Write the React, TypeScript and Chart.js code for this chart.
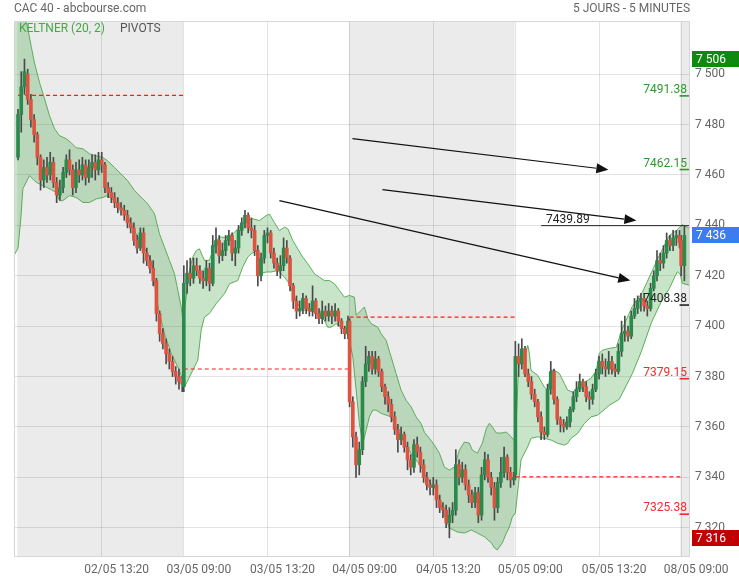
import React, { useEffect, useRef } from 'react';
import { Chart, registerables } from 'chart.js';

Chart.register(...registerables);

// ---------------- data ----------------
// x unit = one 5-minute slot; a session (09:00 -> 17:30) spans 103 slots.
const SESSION_SLOTS = 103;
const CANDLE_STEP = 2; // 10-minute candles
const CANDLES_PER_SESSION = 52;

// 02/05, 03/05, 04/05, 05/05 (52 candles each), 08/05 (2 candles)
const opens = [
  7467, 7484, 7495, 7500, 7490, 7482, 7476, 7467, 7458, 7463, 7460, 7465, 7457, 7452, 7455, 7461, 7466, 7462, 7455, 7462, 7460, 7464, 7459, 7463, 7465, 7462,
  7466, 7464, 7455, 7453, 7451, 7449, 7447, 7446, 7444, 7441, 7439, 7434, 7431, 7437, 7429, 7426, 7423, 7418, 7405, 7397, 7393, 7389, 7386, 7382, 7380, 7378,
  7376, 7417, 7421, 7419, 7424, 7422, 7419, 7418, 7423, 7417, 7432, 7434, 7428, 7430, 7434, 7436, 7429, 7431, 7438, 7441, 7444, 7439, 7438, 7430, 7420, 7427,
  7436, 7437, 7429, 7425, 7422, 7424, 7431, 7427, 7416, 7410, 7406, 7407, 7411, 7407, 7406, 7410, 7405, 7403, 7406, 7404, 7406, 7404, 7406, 7402, 7399, 7397,
  7402, 7370, 7356, 7345, 7351, 7378, 7385, 7388, 7383, 7387, 7382, 7376, 7372, 7369, 7364, 7359, 7355, 7357, 7352, 7347, 7344, 7353, 7350, 7345, 7340, 7337,
  7336, 7337, 7331, 7328, 7327, 7322, 7325, 7327, 7345, 7340, 7343, 7337, 7333, 7330, 7334, 7325, 7341, 7347, 7340, 7336, 7328, 7338, 7342, 7348, 7342, 7339,
  7341, 7388, 7385, 7391, 7381, 7378, 7373, 7370, 7364, 7358, 7357, 7375, 7382, 7371, 7363, 7361, 7360, 7362, 7367, 7372, 7375, 7378, 7376, 7372, 7371, 7375,
  7381, 7386, 7384, 7383, 7386, 7383, 7382, 7390, 7397, 7398, 7396, 7404, 7407, 7410, 7411, 7408, 7407, 7415, 7420, 7426, 7425, 7429, 7434, 7432, 7435, 7436,
  7434, 7424,
];
const highs = [
  7486, 7501, 7506, 7502, 7492, 7484, 7477, 7468, 7466, 7467, 7469, 7467, 7459, 7458, 7463, 7468, 7470, 7464, 7465, 7466, 7467, 7466, 7466, 7468, 7468, 7469,
  7469, 7465, 7457, 7455, 7453, 7451, 7449, 7448, 7446, 7443, 7441, 7436, 7439, 7439, 7431, 7428, 7426, 7419, 7406, 7399, 7395, 7391, 7388, 7384, 7383, 7380,
  7424, 7426, 7427, 7427, 7427, 7424, 7422, 7426, 7425, 7436, 7439, 7436, 7433, 7436, 7438, 7437, 7434, 7440, 7443, 7446, 7445, 7443, 7440, 7432, 7429, 7438,
  7439, 7438, 7431, 7427, 7428, 7435, 7434, 7428, 7417, 7412, 7410, 7413, 7412, 7409, 7416, 7411, 7407, 7410, 7408, 7409, 7408, 7409, 7407, 7403, 7400, 7404,
  7403, 7372, 7358, 7354, 7380, 7392, 7390, 7390, 7390, 7388, 7383, 7377, 7374, 7371, 7366, 7361, 7360, 7358, 7354, 7349, 7355, 7356, 7352, 7347, 7342, 7339,
  7340, 7339, 7333, 7330, 7329, 7328, 7330, 7351, 7347, 7346, 7345, 7339, 7335, 7336, 7336, 7344, 7350, 7349, 7342, 7338, 7340, 7348, 7352, 7349, 7344, 7342,
  7394, 7393, 7395, 7392, 7383, 7380, 7375, 7371, 7366, 7360, 7377, 7386, 7383, 7372, 7364, 7363, 7364, 7368, 7374, 7378, 7381, 7379, 7378, 7374, 7377, 7383,
  7388, 7389, 7387, 7390, 7388, 7385, 7393, 7402, 7404, 7400, 7406, 7411, 7412, 7413, 7413, 7410, 7417, 7422, 7430, 7429, 7432, 7437, 7436, 7438, 7438, 7438,
  7436, 7440,
];
const lows = [
  7466, 7477, 7492, 7488, 7479, 7473, 7464, 7454, 7455, 7457, 7458, 7455, 7449, 7450, 7453, 7459, 7460, 7452, 7453, 7457, 7458, 7456, 7457, 7459, 7458, 7460,
  7461, 7453, 7451, 7449, 7447, 7445, 7444, 7442, 7439, 7437, 7432, 7429, 7430, 7425, 7424, 7421, 7416, 7402, 7394, 7391, 7385, 7383, 7380, 7377, 7375, 7374,
  7374, 7413, 7416, 7417, 7420, 7417, 7415, 7416, 7414, 7416, 7429, 7425, 7426, 7428, 7432, 7426, 7424, 7429, 7436, 7439, 7437, 7435, 7428, 7416, 7418, 7425,
  7433, 7427, 7423, 7420, 7419, 7422, 7425, 7414, 7407, 7403, 7404, 7405, 7405, 7404, 7404, 7403, 7401, 7401, 7402, 7402, 7401, 7402, 7400, 7397, 7395, 7395,
  7368, 7352, 7340, 7341, 7349, 7376, 7382, 7381, 7381, 7380, 7374, 7369, 7366, 7362, 7357, 7350, 7353, 7350, 7343, 7341, 7342, 7348, 7342, 7338, 7335, 7333,
  7333, 7328, 7326, 7324, 7320, 7316, 7322, 7325, 7337, 7338, 7335, 7330, 7328, 7328, 7322, 7323, 7339, 7338, 7333, 7323, 7326, 7336, 7340, 7339, 7336, 7337,
  7339, 7380, 7383, 7380, 7376, 7371, 7368, 7362, 7355, 7355, 7356, 7373, 7369, 7361, 7358, 7358, 7359, 7360, 7366, 7370, 7374, 7374, 7370, 7367, 7369, 7374,
  7379, 7381, 7380, 7381, 7381, 7380, 7381, 7388, 7394, 7394, 7395, 7403, 7405, 7406, 7406, 7404, 7406, 7414, 7418, 7422, 7423, 7427, 7430, 7430, 7432, 7431,
  7420, 7418,
];
const closes = [
  7484, 7495, 7501, 7490, 7482, 7476, 7467, 7458, 7463, 7460, 7465, 7457, 7452, 7455, 7461, 7466, 7462, 7455, 7462, 7460, 7464, 7459, 7463, 7465, 7462, 7466,
  7464, 7455, 7453, 7451, 7449, 7447, 7446, 7444, 7441, 7439, 7434, 7431, 7437, 7429, 7426, 7423, 7418, 7405, 7397, 7393, 7389, 7386, 7382, 7380, 7378, 7377,
  7417, 7421, 7419, 7424, 7422, 7419, 7418, 7423, 7417, 7432, 7434, 7428, 7430, 7434, 7436, 7429, 7431, 7438, 7441, 7444, 7439, 7438, 7430, 7420, 7427, 7436,
  7437, 7429, 7425, 7422, 7424, 7431, 7427, 7416, 7410, 7406, 7407, 7411, 7407, 7406, 7410, 7405, 7403, 7406, 7404, 7406, 7404, 7406, 7402, 7399, 7397, 7402,
  7370, 7356, 7345, 7351, 7378, 7385, 7388, 7383, 7387, 7382, 7376, 7372, 7369, 7364, 7359, 7355, 7357, 7352, 7347, 7344, 7353, 7350, 7345, 7340, 7337, 7336,
  7337, 7331, 7328, 7327, 7322, 7325, 7327, 7345, 7340, 7343, 7337, 7333, 7330, 7334, 7325, 7341, 7347, 7340, 7336, 7328, 7338, 7342, 7348, 7342, 7339, 7340,
  7388, 7385, 7391, 7381, 7378, 7373, 7370, 7364, 7358, 7357, 7375, 7382, 7371, 7363, 7361, 7360, 7362, 7367, 7372, 7375, 7378, 7376, 7372, 7371, 7375, 7381,
  7386, 7384, 7383, 7386, 7383, 7382, 7390, 7397, 7398, 7396, 7404, 7407, 7410, 7411, 7408, 7407, 7415, 7420, 7426, 7425, 7429, 7434, 7432, 7435, 7436, 7433,
  7424, 7436,
];

// Keltner (20, 2) channel
const upperX = [
  -2.5, 0, 4.0, 6.1, 8.2, 10.2, 13.4, 16.5, 19.6, 22.7, 25.8, 29.9, 33.0, 36.1, 40.3, 44.4, 48.6, 52.7, 55.5, 59.9, 68.2, 72.4, 77.5, 80.6, 84.8, 87.9, 91.0, 94.1, 97.2, 99.3, 101.4, 102.4,
  103.4, 104.5, 106.5, 108.6, 110.7, 112.7, 115.8, 118.9, 121.0, 123.1, 125.2, 129.3, 133.4, 137.6, 141.7, 145.8, 150.0, 154.2, 156.2, 159.3, 162.4, 165.5, 167.6, 170.7, 173.8, 176.9, 180.0, 184.2, 187.3, 190.4, 193.5, 196.6, 199.7, 202.8, 205.9,
  209.0, 210.1, 213.2, 215.2, 217.3, 219.4, 223.5, 225.6, 228.7, 231.8, 234.9, 238.0, 241.1, 244.2, 247.3, 250.4, 252.5, 255.6, 258.7, 261.8, 264.9, 268.0, 271.1, 274.2, 277.3, 280.4, 282.3, 285.4, 288.5, 291.0, 292.9, 294.7, 297.2, 300.3, 303.4, 306.5, 309.0,
  310.9, 311.5, 314.6, 316.7, 317.7, 318.7, 322.9, 327.0, 329.1, 331.2, 333.2, 336.3, 339.4, 341.5, 344.6, 347.7, 351.9, 356.0, 359.3, 361.2, 363.0, 367.4, 371.7, 375.5, 381.7, 387.9, 394.1, 398.4, 404.7, 409.0, 412.7, 417.5,
];
const upperY = [
  7550, 7545, 7523, 7518, 7511, 7504.5, 7496.6, 7490.2, 7483.5, 7478.3, 7475.6, 7474.4, 7472.8, 7470.8, 7470.4, 7468.4, 7467.6, 7466.9, 7465.7, 7463.0, 7457.7, 7453.8, 7450.5, 7448.5, 7444.6, 7436.6, 7431.3, 7426.1, 7420.8, 7414.2, 7407.6, 7402.3,
  7406.3, 7411.5, 7422.1, 7427.4, 7430.0, 7430.7, 7426.1, 7426.1, 7430.0, 7434.0, 7435.3, 7435.3, 7436.6, 7439.3, 7441.9, 7442.6, 7441.9, 7443.9, 7444.5, 7441.1, 7437.9, 7439.3, 7438.7, 7434.0, 7430.7, 7427.4, 7424.8, 7420.8, 7419.4, 7418.1, 7418.1, 7416.8, 7414.2, 7411.5, 7412.2,
  7411.5, 7404.3, 7406.3, 7407.6, 7403.0, 7401.0, 7399.6, 7397.0, 7394.4, 7387.8, 7381.2, 7374.6, 7370.6, 7368.0, 7364.0, 7361.4, 7357.9, 7355.5, 7352.8, 7349.6, 7344.1, 7342.9, 7344.1, 7350.8, 7354.0, 7353.6, 7350.8, 7349.6, 7353.6, 7359.5, 7361.5, 7360.0, 7357.6, 7357.6, 7358.0, 7356.0, 7354.0,
  7382.5, 7385.3, 7387.6, 7392.4, 7389.3, 7382.5, 7380.5, 7375.8, 7374.6, 7382.5, 7382.5, 7381.3, 7377.3, 7374.6, 7373.8, 7375.8, 7377.7, 7379.3, 7382.5, 7389.3, 7390.4, 7391.2, 7391.6, 7399.1, 7407.9, 7413.4, 7422.1, 7428.0, 7436.0, 7437.9, 7440.3, 7438.7,
];
const lowerX = [
  -2.5, 0, 1.9, 3.0, 7.1, 11.3, 15.4, 19.6, 23.7, 25.8, 27.8, 32.0, 36.1, 40.3, 44.4, 48.6, 52.7, 55.5, 59.9, 64.1, 68.2, 72.4, 76.5, 80.6, 83.7, 85.8, 87.9, 91.0, 95.2, 99.3, 101.8, 103.4,
  104.5, 108.6, 111.7, 113.8, 115.8, 118.9, 123.1, 128.3, 131.4, 136.5, 139.6, 142.7, 144.8, 148.0, 150.0, 154.2, 157.3, 161.4, 165.5, 168.6, 171.7, 175.9, 180.0, 184.2, 187.3, 190.4, 192.4, 194.5, 197.6, 200.7, 203.9,
  205.9, 208.0, 210.1, 212.1, 214.2, 216.3, 218.3, 220.4, 222.5, 225.6, 228.7, 231.8, 235.9, 240.1, 244.2, 247.3, 250.4, 253.5, 256.6, 258.7, 261.8, 264.9, 268.0, 273.0, 277.3, 281.7, 285.4, 289.8, 294.1, 296.0, 297.8, 300.9, 303.4, 305.3, 307.1, 309.0,
  310.9, 312.5, 316.6, 318.8, 322.9, 327.0, 331.2, 335.3, 339.4, 341.5, 343.6, 347.7, 351.9, 356.0, 360.1, 367.4, 373.6, 381.7, 387.3, 393.5, 399.7, 404.7, 409.6, 411.5, 412.7, 417.5,
];
const lowerY = [
  7428, 7431, 7443.9, 7454.5, 7459.7, 7457.1, 7455.8, 7454.5, 7453.1, 7449.8, 7449.8, 7451.8, 7451.1, 7449.1, 7449.1, 7450.5, 7451.1, 7451.8, 7449.8, 7447.2, 7443.2, 7437.9, 7432.7, 7428.7, 7423.4, 7411.5, 7405.0, 7397.0, 7389.1, 7383.8, 7379.8, 7375.9,
  7377.2, 7382.5, 7386.5, 7398.4, 7403.6, 7405.0, 7408.9, 7412.9, 7416.8, 7418.1, 7423.4, 7427.4, 7428.7, 7430.0, 7420.8, 7421.5, 7421.5, 7422.1, 7419.5, 7416.8, 7411.5, 7406.3, 7406.3, 7405.6, 7404.3, 7402.3, 7399.6, 7399.6, 7401.0, 7399.6, 7398.4,
  7394.4, 7387.8, 7374.6, 7361.4, 7353.5, 7358.7, 7364.0, 7366.7, 7366.7, 7365.4, 7364.7, 7364.0, 7358.7, 7353.5, 7349.5, 7346.9, 7344.2, 7340.2, 7337.6, 7336.2, 7331.0, 7325.1, 7319.9, 7318.3, 7317.9, 7319.1, 7317.9, 7316.4, 7314.0, 7312.0, 7311.2, 7314.0, 7317.9, 7320.3, 7324.3, 7325.8,
  7337.0, 7346.9, 7352.1, 7355.5, 7356.1, 7355.5, 7354.8, 7353.5, 7352.8, 7353.5, 7355.5, 7357.4, 7361.4, 7364.0, 7364.7, 7368.6, 7371.0, 7381.2, 7390.0, 7401.4, 7409.8, 7415.0, 7421.6, 7420.5, 7417.0, 7416.2,
];

// daily pivot (dashed red) per session
const pivotStart = [0, 103, 206, 309];
const pivotEnd = [102.5, 205.5, 308.5, 411.5];
const pivotValues = [7491.6, 7383.0, 7403.6, 7340.2];

// pivots for the next session (08/05)
const nextPivotValues = [7491.38, 7462.15, 7439.89, 7408.38, 7379.15, 7325.38];
const nextPivotLabels = ['7491.38', '7462.15', '7439.89', '7408.38', '7379.15', '7325.38'];
const nextPivotColors = ['#2b9a2b', '#2b9a2b', '#222222', '#222222', '#f22a2a', '#f22a2a'];
const pivotLineStart = 325; // long line of the central pivot

// hand-drawn arrows (start -> end)
const arrowX1 = [207.8, 226.4, 162.4];
const arrowY1 = [7474.4, 7454.2, 7449.8];
const arrowX2 = [366.8, 384.2, 380.4];
const arrowY2 = [7462.1, 7441.9, 7418.1];

// price tags on the axis
const tagValues = [7506, 7436, 7316];
const tagLabels = ['7 506', '7 436', '7 316'];
const tagColors = ['#0f8a0f', '#3b7cf0', '#c20000'];

// axes
const xTickValues = [52, 103, 155, 206, 258, 309, 361, 412];
const xTickLabels = ['02/05 13:20', '03/05 09:00', '03/05 13:20', '04/05 09:00', '04/05 13:20', '05/05 09:00', '05/05 13:20', '08/05 09:00'];
const yTickValues = [7320, 7340, 7360, 7380, 7400, 7420, 7440, 7460, 7480, 7500];
const shadedSessions = [0, 2, 4];

// ---------------- chart ----------------
const UP = '#2a8a4c';
const DOWN = '#de5240';
const FONT = 'Roboto, "Open Sans", sans-serif';

function candleX(i: number) {
  return SESSION_SLOTS * Math.floor(i / CANDLES_PER_SESSION) + CANDLE_STEP * (i % CANDLES_PER_SESSION);
}
function fmt(v: number) {
  return String(v).replace(/\B(?=(\d{3})+(?!\d))/g, ' ');
}

const bgPlugin = {
  id: 'bgPlugin',
  beforeDraw(chart: any) {
    const { ctx, chartArea: a, scales } = chart;
    const x = scales.x;
    ctx.save();
    ctx.fillStyle = '#ffffff';
    ctx.fillRect(0, 0, chart.width, chart.height);
    ctx.fillStyle = '#ebebeb';
    shadedSessions.forEach((d) => {
      const x0 = Math.max(a.left, x.getPixelForValue(d * SESSION_SLOTS - 0.5));
      const x1 = Math.min(a.right, x.getPixelForValue((d + 1) * SESSION_SLOTS - 0.5));
      if (x1 > x0) ctx.fillRect(x0, a.top, x1 - x0, a.bottom - a.top);
    });
    ctx.restore();
  },
};

const overlayPlugin = {
  id: 'overlayPlugin',
  afterDraw(chart: any) {
    const { ctx, chartArea: a, scales } = chart;
    const xs = scales.x;
    const ys = scales.y;
    ctx.save();
    // frame
    ctx.strokeStyle = '#d6d6d6';
    ctx.lineWidth = 1;
    ctx.strokeRect(a.left + 0.5, a.top + 0.5, a.right - a.left - 1, a.bottom - a.top - 1);

    // arrows
    ctx.strokeStyle = '#111';
    ctx.fillStyle = '#111';
    ctx.lineWidth = 1.2;
    for (let i = 0; i < arrowX1.length; i++) {
      const x1 = xs.getPixelForValue(arrowX1[i]);
      const y1 = ys.getPixelForValue(arrowY1[i]);
      const x2 = xs.getPixelForValue(arrowX2[i]);
      const y2 = ys.getPixelForValue(arrowY2[i]);
      const ang = Math.atan2(y2 - y1, x2 - x1);
      const hl = 12;
      const hw = 5;
      const bx = x2 - hl * Math.cos(ang);
      const by = y2 - hl * Math.sin(ang);
      ctx.beginPath();
      ctx.moveTo(x1, y1);
      ctx.lineTo(bx, by);
      ctx.stroke();
      ctx.beginPath();
      ctx.moveTo(x2, y2);
      ctx.lineTo(bx - hw * Math.sin(ang), by + hw * Math.cos(ang));
      ctx.lineTo(bx + hw * Math.sin(ang), by - hw * Math.cos(ang));
      ctx.closePath();
      ctx.fill();
    }

    // next-session pivot labels
    ctx.font = '12px ' + FONT;
    ctx.textBaseline = 'alphabetic';
    nextPivotValues.forEach((v, i) => {
      const y = ys.getPixelForValue(v);
      ctx.fillStyle = nextPivotColors[i];
      if (i === 2) {
        ctx.textAlign = 'left';
        ctx.fillText(nextPivotLabels[i], xs.getPixelForValue(pivotLineStart) + 5, y - 3);
      } else {
        ctx.textAlign = 'right';
        ctx.fillText(nextPivotLabels[i], a.right - 3, y - 3);
      }
    });

    // price tags
    ctx.textAlign = 'left';
    ctx.textBaseline = 'middle';
    tagValues.forEach((v, i) => {
      const y = Math.round(ys.getPixelForValue(v));
      ctx.fillStyle = tagColors[i];
      ctx.fillRect(a.right + 2, y - 8, chart.width - a.right - 2, 16);
      ctx.fillStyle = '#ffffff';
      ctx.font = '12px ' + FONT;
      ctx.fillText(tagLabels[i], a.right + 6, y + 1);
    });

    // headers
    ctx.font = '12px ' + FONT;
    ctx.fillStyle = '#666';
    ctx.textAlign = 'left';
    ctx.fillText('CAC 40 - abcbourse.com', 14, 9);
    ctx.textAlign = 'right';
    ctx.fillText('5 JOURS - 5 MINUTES', a.right, 9);
    ctx.textAlign = 'left';
    ctx.fillStyle = '#45a845';
    ctx.fillText('KELTNER (20, 2)', 19, 29);
    ctx.fillStyle = '#555';
    ctx.fillText('PIVOTS', 120, 29);
    ctx.restore();
  },
};

export default function App() {
  const ref = useRef<HTMLCanvasElement | null>(null);

  useEffect(() => {
    if (!ref.current) return;
    Chart.defaults.font.family = FONT;
    Chart.defaults.font.size = 12;

    const xsCandles = closes.map((_, i) => candleX(i));
    const wickData = xsCandles.map((x, i) => ({ x, y: [lows[i], highs[i]] }));
    const bodyData = xsCandles.map((x, i) => ({ x, y: [opens[i], closes[i]] }));

    const datasets: any[] = [
      {
        type: 'line',
        data: upperX.map((x, i) => ({ x, y: upperY[i] })),
        borderColor: 'rgba(84,170,84,0.95)',
        borderWidth: 1,
        backgroundColor: 'rgba(76,170,76,0.3)',
        pointRadius: 0,
        tension: 0,
        fill: '+1',
        order: 10,
      },
      {
        type: 'line',
        data: lowerX.map((x, i) => ({ x, y: lowerY[i] })),
        borderColor: 'rgba(84,170,84,0.95)',
        borderWidth: 1,
        pointRadius: 0,
        tension: 0,
        fill: false,
        order: 10,
      },
    ];
    pivotValues.forEach((v, i) => {
      datasets.push({
        type: 'line',
        data: [{ x: pivotStart[i], y: v }, { x: pivotEnd[i], y: v }],
        borderColor: '#ff1a1a',
        borderWidth: 1.2,
        borderDash: [4, 3],
        pointRadius: 0,
        fill: false,
        order: 5,
      });
    });
    nextPivotValues.forEach((v, i) => {
      datasets.push({
        type: 'line',
        data: [{ x: i === 2 ? pivotLineStart : SESSION_SLOTS * 4 - 1, y: v }, { x: 417.5, y: v }],
        borderColor: nextPivotColors[i],
        borderWidth: i === 2 ? 1 : 1.6,
        pointRadius: 0,
        fill: false,
        order: 4,
      });
    });
    datasets.push({
      type: 'bar',
      data: wickData,
      backgroundColor: '#4a4a4a',
      barThickness: 1,
      grouped: false,
      borderWidth: 0,
      order: 2,
    });
    datasets.push({
      type: 'bar',
      data: bodyData,
      backgroundColor: (c: any) => (closes[c.dataIndex] >= opens[c.dataIndex] ? UP : DOWN),
      barThickness: 3,
      minBarLength: 1,
      grouped: false,
      borderWidth: 0,
      order: 1,
    });

    const chart = new Chart(ref.current, {
      type: 'bar',
      data: { datasets },
      options: {
        animation: false,
        responsive: false,
        devicePixelRatio: 1,
        layout: { padding: { left: 14, top: 21, right: 0, bottom: 0 } },
        plugins: { legend: { display: false }, tooltip: { enabled: false } },
        scales: {
          x: {
            type: 'linear',
            min: -2.5,
            max: 417.5,
            offset: false,
            grid: { color: 'rgba(0,0,0,0.11)', drawTicks: false, offset: false },
            border: { display: false },
            ticks: {
              color: '#666',
              padding: 6,
              maxRotation: 0,
              autoSkip: false,
              labelOffset: 15,
              font: { size: 12, family: FONT },
              callback: (v: any) => {
                const k = xTickValues.indexOf(Number(v));
                return k >= 0 ? xTickLabels[k] : '';
              },
            },
            afterBuildTicks: (s: any) => {
              s.ticks = xTickValues.map((value) => ({ value }));
            },
            afterFit: (s: any) => {
              s.height = 23;
            },
          },
          y: {
            type: 'linear',
            position: 'right',
            min: 7308.4,
            max: 7521.1,
            grid: { color: 'rgba(0,0,0,0.11)', drawTicks: false },
            border: { display: false },
            ticks: {
              color: '#666',
              padding: 5,
              font: { size: 12, family: FONT },
              callback: (v: any) => fmt(Number(v)),
            },
            afterBuildTicks: (s: any) => {
              s.ticks = yTickValues.map((value) => ({ value }));
            },
            afterFit: (s: any) => {
              s.width = 49;
            },
          },
        },
      },
      plugins: [bgPlugin, overlayPlugin],
    } as any);

    return () => chart.destroy();
  }, []);

  return (
    <div style={{ position: 'absolute', left: 0, top: 0, width: 739, height: 580, background: '#fff' }}>
      <canvas ref={ref} width={739} height={580} style={{ display: 'block', width: 739, height: 580 }} />
    </div>
  );
}
